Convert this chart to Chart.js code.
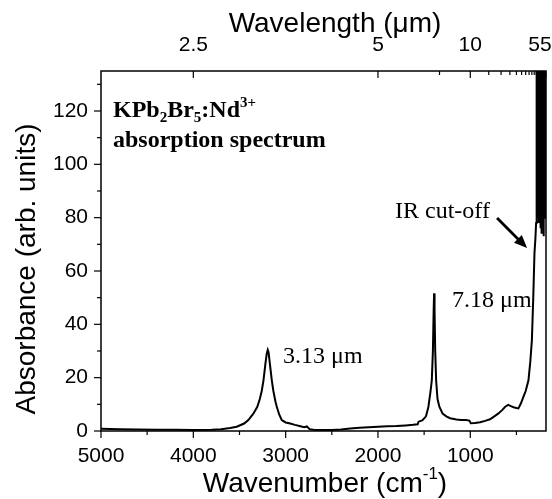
<!DOCTYPE html>
<html>
<head>
<meta charset="utf-8">
<script src="https://cdn.jsdelivr.net/npm/chart.js@4.4.1/dist/chart.umd.min.js"></script>
<style>
    body { margin: 0; background: #fff; }
    #wrap { width: 552px; height: 499px; }
</style>
</head>
<body>
<div id="wrap"><canvas id="myChart"></canvas></div>
<script>
// spectrum (wavenumber in cm-1, absorbance in arb. units)
const wavenumbers = [
    5000, 4800, 4600, 4400, 4200, 4000, 3800, 3700, 3600, 3530,
    3450, 3404, 3350, 3307, 3280, 3259, 3240, 3220, 3205, 3194,
    3185, 3170, 3150, 3133, 3110, 3096, 3070, 3042, 3000, 2950,
    2900, 2850, 2800, 2771, 2740, 2700, 2600, 2500, 2400, 2300,
    2200, 2100, 2000, 1900, 1800, 1700, 1620, 1570, 1560, 1520,
    1480, 1454, 1430, 1417, 1405, 1397, 1392, 1387, 1380, 1370,
    1355, 1335, 1300, 1260, 1219, 1150, 1100, 1050, 1010, 995,
    950, 894, 840, 786, 740, 695, 650, 622, 590, 560,
    532, 500, 479, 450, 424, 400, 370, 350, 333, 318,
    305, 295, 287, 283, 280, 277, 274, 271, 268, 265,
    262, 259, 256, 253, 250, 247, 244, 241, 238, 235,
    232, 229, 226, 223, 220, 217, 214, 211, 208, 205,
    202, 199, 196, 193, 190, 187, 184, 181
];
const absorbance = [
    0.8, 0.7, 0.6, 0.5, 0.45, 0.4, 0.5, 0.7, 1.1, 1.6,
    2.8, 4.1, 6.5, 9.1, 12, 15, 19, 25, 29, 30.4,
    29.5, 25, 19, 15, 11, 9.1, 6.2, 4.1, 3.2, 2.8,
    2.3, 1.9, 1.4, 1.7, 0.7, 0.5, 0.4, 0.4, 0.6, 0.9,
    1.2, 1.4, 1.6, 1.8, 1.9, 2.1, 2.3, 2.5, 3.5, 4.0,
    5.5, 9, 15, 19, 30, 45, 51.6, 45, 30, 19,
    12, 9.1, 6.5, 5.5, 4.8, 4.3, 4.1, 4.1, 3.9, 2.9,
    3.0, 3.3, 3.8, 4.4, 5.5, 6.6, 8.0, 9.1, 9.8, 9.3,
    8.9, 8.6, 8.5, 10.5, 12.9, 15, 19, 26, 34, 50,
    66.6, 72, 78, 140, 95, 150, 88, 160, 80, 145,
    85, 170, 78, 150, 92, 160, 82, 140, 76, 155,
    86, 165, 74, 150, 90, 160, 80, 145, 85, 170,
    73, 150, 88, 160, 80, 145, 95, 150
];

const wavenumberTicks = [5000, 4000, 3000, 2000, 1000];
const wavenumberMinor = [4500, 3500, 2500, 1500, 500];
const wavelengthTicks = [2.5, 5, 10, 55];
const wavelengthMinor = [7.5, 12.5, 15, 17.5, 20, 22.5, 25, 27.5, 30, 32.5, 35, 37.5, 40, 42.5, 45, 47.5, 50, 52.5];
const absorbanceTicks = [0, 20, 40, 60, 80, 100, 120];
const absorbanceMinor = [10, 30, 50, 70, 90, 110, 130];

const sans = 'Arial, "Liberation Sans", sans-serif';
const serif = '"Times New Roman", "Liberation Serif", serif';

// draws the frame, the tick marks, axis titles and the notes on the plot
const framePlugin = {
    id: 'frame',
    afterDatasetsDraw(chart) {
        const ctx = chart.ctx;
        const a = chart.chartArea;
        const x = chart.scales.x;
        const y = chart.scales.y;
        ctx.save();
        ctx.strokeStyle = '#000';
        ctx.fillStyle = '#000';
        ctx.lineWidth = 1.5;
        ctx.strokeRect(a.left, a.top, a.right - a.left, a.bottom - a.top);

        ctx.lineWidth = 1.2;
        const mark = (x1, y1, x2, y2) => {
            ctx.beginPath();
            ctx.moveTo(x1, y1);
            ctx.lineTo(x2, y2);
            ctx.stroke();
        };
        wavenumberTicks.forEach(v => { const px = x.getPixelForValue(v); mark(px, a.bottom, px, a.bottom + 7); });
        wavenumberMinor.forEach(v => { const px = x.getPixelForValue(v); mark(px, a.bottom, px, a.bottom + 4); });
        wavelengthTicks.forEach(l => { const px = x.getPixelForValue(10000 / l); mark(px, a.top, px, a.top + 7); });
        wavelengthMinor.forEach(l => { const px = x.getPixelForValue(10000 / l); mark(px, a.top, px, a.top + 4); });
        absorbanceTicks.forEach(v => { const py = y.getPixelForValue(v); mark(a.left, py, a.left - 7, py); });
        absorbanceMinor.forEach(v => { const py = y.getPixelForValue(v); mark(a.left, py, a.left - 4, py); });

        // axis titles
        const title = '28px ' + sans;
        ctx.textBaseline = 'alphabetic';
        ctx.font = title;
        ctx.textAlign = 'center';
        ctx.fillText('Wavelength (\u03bcm)', 335, 32);

        const t1 = 'Wavenumber (cm';
        const t3 = ')';
        ctx.font = title;
        const w1 = ctx.measureText(t1).width;
        const w3 = ctx.measureText(t3).width;
        ctx.font = '17px ' + sans;
        const w2 = ctx.measureText('-1').width;
        let bx = 325 - (w1 + w2 + w3) / 2;
        ctx.textAlign = 'left';
        ctx.font = title;
        ctx.fillText(t1, bx, 492);
        ctx.font = '17px ' + sans;
        ctx.fillText('-1', bx + w1, 479);
        ctx.font = title;
        ctx.fillText(t3, bx + w1 + w2, 492);

        ctx.save();
        ctx.translate(35, 269);
        ctx.rotate(-Math.PI / 2);
        ctx.textAlign = 'center';
        ctx.fillText('Absorbance (arb. units)', 0, 0);
        ctx.restore();

        // sample name, written piece by piece for sub- and superscripts
        const parts = [
            ['KPb', 0, 24], ['2', 5, 15], ['Br', 0, 24], ['5', 5, 15], [':Nd', 0, 24], ['3+', -10, 15]
        ];
        let nx = x.getPixelForValue(4870);
        const ny = y.getPixelForValue(117.7);
        ctx.textAlign = 'left';
        parts.forEach(([s, dy, size]) => {
            ctx.font = 'bold ' + size + 'px ' + serif;
            ctx.fillText(s, nx, ny + dy);
            nx += ctx.measureText(s).width;
        });
        ctx.font = 'bold 24px ' + serif;
        ctx.fillText('absorption spectrum', x.getPixelForValue(4870), y.getPixelForValue(106.5));

        ctx.font = '24px ' + serif;
        ctx.fillText('3.13 \u03bcm', x.getPixelForValue(3028), y.getPixelForValue(25.4));
        ctx.fillText('7.18 \u03bcm', x.getPixelForValue(1197), y.getPixelForValue(46.6));
        ctx.fillText('IR cut-off', x.getPixelForValue(1815), y.getPixelForValue(79.9));

        // arrow to the cut-off
        const ax1 = x.getPixelForValue(710), ay1 = y.getPixelForValue(79.9);
        const ax2 = x.getPixelForValue(385), ay2 = y.getPixelForValue(68.6);
        const ang = Math.atan2(ay2 - ay1, ax2 - ax1);
        ctx.lineWidth = 2.8;
        mark(ax1, ay1, ax2 - 8 * Math.cos(ang), ay2 - 8 * Math.sin(ang));
        ctx.beginPath();
        ctx.moveTo(ax2, ay2);
        ctx.lineTo(ax2 - 13 * Math.cos(ang) + 5.5 * Math.sin(ang), ay2 - 13 * Math.sin(ang) - 5.5 * Math.cos(ang));
        ctx.lineTo(ax2 - 13 * Math.cos(ang) - 5.5 * Math.sin(ang), ay2 - 13 * Math.sin(ang) + 5.5 * Math.cos(ang));
        ctx.closePath();
        ctx.fill();
        ctx.restore();
    }
};

const points = wavenumbers.map((w, i) => ({ x: w, y: absorbance[i] }));

// fix the axis boxes so the plot area sits where it does in the picture
function fitX(height) {
    return scale => {
        scale.height = height;
        scale.paddingLeft = 0;
        scale.paddingRight = 0;
    };
}

const ctx = document.getElementById('myChart').getContext('2d');
const chart = new Chart(ctx, {
    type: 'line',
    data: {
        datasets: [{
            label: 'Absorbance',
            data: points,
            borderColor: '#000',
            borderWidth: 2,
            pointRadius: 0,
            tension: 0,
            fill: false
        }]
    },
    options: {
        responsive: true,
        maintainAspectRatio: false,
        animation: false,
        layout: { padding: { left: 0, right: 6, top: 0, bottom: 0 } },
        plugins: {
            legend: { display: false },
            tooltip: { enabled: false }
        },
        scales: {
            x: {
                type: 'linear',
                position: 'bottom',
                reverse: true,
                min: 180,
                max: 5000,
                grid: { display: false, drawTicks: false },
                border: { display: false },
                ticks: {
                    color: '#000',
                    padding: 13,
                    maxRotation: 0,
                    autoSkip: false,
                    font: { size: 21, family: sans },
                    callback: value => String(value)
                },
                afterBuildTicks: scale => { scale.ticks = wavenumberTicks.map(v => ({ value: v })); },
                afterFit: fitX(68)
            },
            x2: {
                type: 'linear',
                position: 'top',
                reverse: true,
                min: 180,
                max: 5000,
                grid: { display: false, drawTicks: false },
                border: { display: false },
                ticks: {
                    color: '#000',
                    padding: 13,
                    maxRotation: 0,
                    autoSkip: false,
                    font: { size: 21, family: sans },
                    callback: (value, index) => index === wavelengthTicks.length - 1
                        ? wavelengthTicks[index] + '\u2007'
                        : String(wavelengthTicks[index])
                },
                afterBuildTicks: scale => { scale.ticks = wavelengthTicks.map(l => ({ value: 10000 / l })); },
                afterFit: fitX(71)
            },
            y: {
                type: 'linear',
                min: 0,
                max: 135,
                grid: { display: false, drawTicks: false },
                border: { display: false },
                ticks: {
                    color: '#000',
                    padding: 13,
                    font: { size: 21, family: sans },
                    callback: value => String(value)
                },
                afterBuildTicks: scale => { scale.ticks = absorbanceTicks.map(v => ({ value: v })); },
                afterFit: scale => {
                    scale.width = 101;
                    scale.paddingTop = 0;
                    scale.paddingBottom = 0;
                }
            }
        }
    },
    plugins: [framePlugin]
});
</script>
</body>
</html>
